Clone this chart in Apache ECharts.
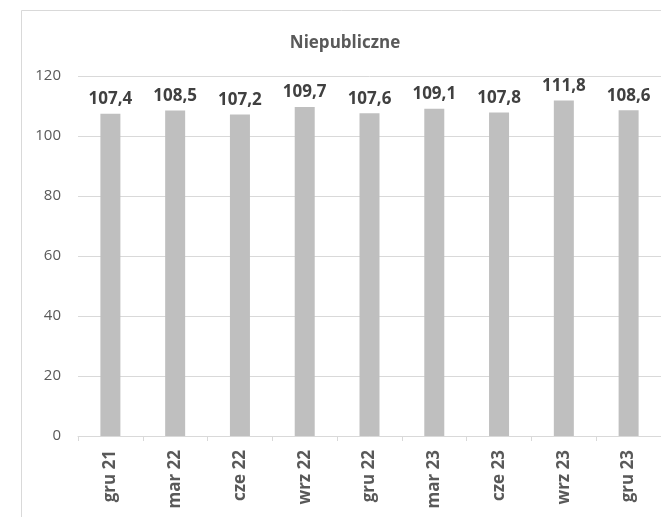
<!DOCTYPE html>
<html>
<head>
<meta charset="utf-8">
<script src="https://cdn.jsdelivr.net/npm/echarts@6/dist/echarts.min.js"></script>
<style>
  html, body { margin: 0; padding: 0; background: #fff; }
  #chart { width: 661px; height: 517px; }
</style>
</head>
<body>
<div id="chart"></div>
<script>
// dane
const categories = ['gru 21', 'mar 22', 'cze 22', 'wrz 22', 'gru 22', 'mar 23', 'cze 23', 'wrz 23', 'gru 23'];
const values = [107.4, 108.5, 107.2, 109.7, 107.6, 109.1, 107.8, 111.8, 108.6];
const yTicks = [0, 20, 40, 60, 80, 100, 120];

const fontFam = '"Open Sans", "Liberation Sans", sans-serif';

const chart = echarts.init(document.getElementById('chart'));
chart.setOption({
  animation: false,
  backgroundColor: '#fff',
  graphic: [{
    type: 'rect',
    shape: { x: 21.5, y: 10.5, width: 700, height: 600 },
    style: { fill: 'none', stroke: '#d9d9d9', lineWidth: 1 },
    silent: true
  }],
  title: {
    text: 'Niepubliczne',
    left: 340,
    textAlign: 'center',
    top: 30,
    textStyle: { fontFamily: fontFam, fontSize: 17, fontWeight: 'bold', color: '#595959' }
  },
  grid: { left: 78, right: 0, top: 76, bottom: 81 },
  xAxis: {
    type: 'category',
    data: categories,
    axisLine: { lineStyle: { color: '#d9d9d9' } },
    axisTick: { show: true, length: 5, lineStyle: { color: '#d9d9d9' } },
    axisLabel: {
      rotate: 90,
      margin: 14,
      fontFamily: fontFam,
      fontSize: 17,
      fontWeight: 'bold',
      color: '#595959'
    }
  },
  yAxis: {
    type: 'value',
    min: yTicks[0],
    max: yTicks[yTicks.length - 1],
    interval: 20,
    axisLine: { show: false },
    axisTick: { show: false },
    splitLine: { lineStyle: { color: '#d9d9d9' } },
    axisLabel: { margin: 17, fontFamily: fontFam, fontSize: 15, color: '#595959' }
  },
  series: [{
    type: 'bar',
    data: values,
    barWidth: 20,
    itemStyle: { color: '#bfbfbf' },
    label: {
      show: true,
      position: 'top',
      distance: 6,
      fontFamily: fontFam,
      fontSize: 17,
      fontWeight: 'bold',
      color: '#404040',
      formatter: p => p.value.toFixed(1).replace('.', ',')
    }
  }]
});
</script>
</body>
</html>
